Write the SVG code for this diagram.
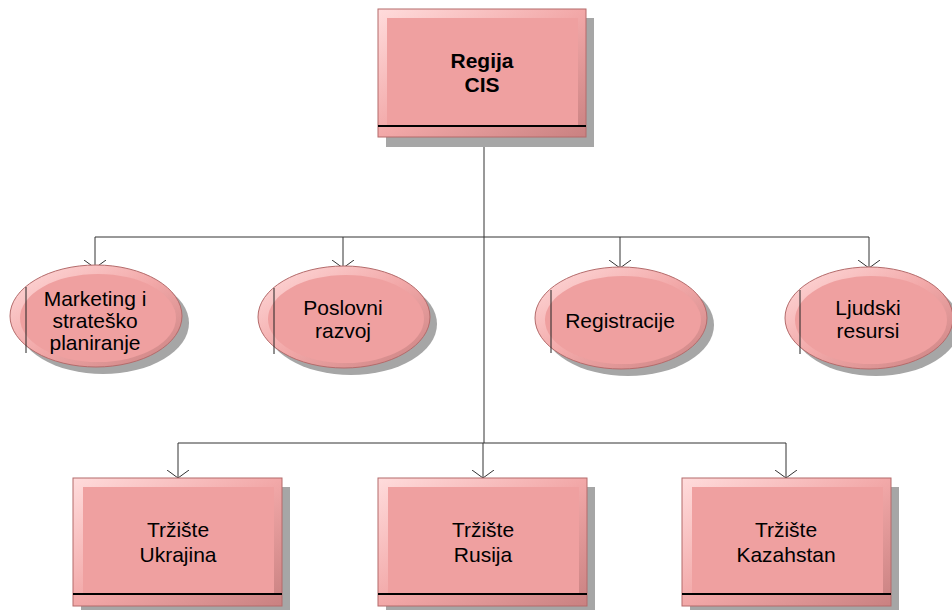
<svg xmlns="http://www.w3.org/2000/svg" width="952" height="610" viewBox="0 0 952 610">
<defs>
<linearGradient id="bev" x1="0" y1="0" x2="1" y2="1">
<stop offset="0" stop-color="#ffdcdc"/>
<stop offset="0.5" stop-color="#f2a8a8"/>
<stop offset="1" stop-color="#c98181"/>
</linearGradient>
<marker id="arr" markerWidth="9" markerHeight="24" refX="8" refY="12" orient="auto" markerUnits="userSpaceOnUse" viewBox="0 0 9 24">
<path d="M0,1 L8,12 L0,23" fill="none" stroke="#333" stroke-width="1"/>
</marker>
<style>
.sh{fill:#a6a6a6}
.outer{fill:url(#bev);stroke:#b46b6b;stroke-width:1}
.inner{fill:#efa0a0}
.bar{stroke:#000;stroke-width:2}
.vbar{stroke:#222;stroke-width:1}
.conn{fill:none;stroke:#333;stroke-width:1}
text{font-family:"Liberation Sans",Arial,sans-serif;font-size:21px;fill:#000;text-anchor:middle}
.b{font-weight:bold;font-size:21px}
</style>
</defs>
<rect width="952" height="610" fill="#fff"/>
<g id="connectors">
<path class="conn" d="M484,137 V443"/>
<path class="conn" d="M95,237 H869"/>
<path class="conn" d="M95,237 V268" marker-end="url(#arr)"/>
<path class="conn" d="M343,237 V268" marker-end="url(#arr)"/>
<path class="conn" d="M620,237 V268" marker-end="url(#arr)"/>
<path class="conn" d="M869,237 V268" marker-end="url(#arr)"/>
<path class="conn" d="M178,443 H786"/>
<path class="conn" d="M178,443 V478" marker-end="url(#arr)"/>
<path class="conn" d="M483,443 V478" marker-end="url(#arr)"/>
<path class="conn" d="M786,443 V478" marker-end="url(#arr)"/>
</g>
<g id="regija">
<rect class="sh" x="386" y="18" width="208" height="129"/>
<rect class="outer" x="378" y="9" width="208" height="128"/>
<rect class="inner" x="387" y="18" width="191" height="108"/>
<line class="bar" x1="378" y1="126" x2="586" y2="126"/>
<text class="b" x="482" y="68">Regija</text>
<text class="b" x="482" y="92">CIS</text>
</g>
<g id="marketing">
<ellipse class="sh" cx="103" cy="323" rx="86" ry="51"/>
<ellipse class="outer" cx="96" cy="316" rx="86" ry="51"/>
<ellipse class="inner" cx="98" cy="318" rx="78" ry="44"/>
<line class="vbar" x1="26" y1="287" x2="26" y2="353"/>
<text x="95" y="306">Marketing i</text>
<text x="95" y="328">strateško</text>
<text x="95" y="350">planiranje</text>
</g>
<g id="poslovni">
<ellipse class="sh" cx="351" cy="324" rx="86" ry="51"/>
<ellipse class="outer" cx="344" cy="317" rx="86" ry="51"/>
<ellipse class="inner" cx="346" cy="319" rx="78" ry="44"/>
<line class="vbar" x1="274" y1="288" x2="274" y2="354"/>
<text x="343" y="315">Poslovni</text>
<text x="343" y="338">razvoj</text>
</g>
<g id="registracije">
<ellipse class="sh" cx="628" cy="325" rx="86" ry="51"/>
<ellipse class="outer" cx="621" cy="318" rx="86" ry="51"/>
<ellipse class="inner" cx="623" cy="320" rx="78" ry="44"/>
<line class="vbar" x1="551" y1="290" x2="551" y2="353"/>
<text x="620" y="328">Registracije</text>
</g>
<g id="ljudski">
<ellipse class="sh" cx="876" cy="325" rx="84" ry="51"/>
<ellipse class="outer" cx="869" cy="318" rx="84" ry="51"/>
<ellipse class="inner" cx="871" cy="320" rx="76" ry="44"/>
<line class="vbar" x1="800" y1="290" x2="800" y2="354"/>
<text x="868" y="315">Ljudski</text>
<text x="868" y="338">resursi</text>
</g>
<g id="ukrajina">
<rect class="sh" x="81" y="487" width="209" height="123"/>
<rect class="outer" x="73" y="478" width="209" height="128"/>
<rect class="inner" x="83" y="487" width="191" height="107"/>
<line class="bar" x1="73" y1="594" x2="282" y2="594"/>
<text x="178" y="537">Tržište</text>
<text x="178" y="562">Ukrajina</text>
</g>
<g id="rusija">
<rect class="sh" x="386" y="487" width="209" height="123"/>
<rect class="outer" x="378" y="478" width="209" height="128"/>
<rect class="inner" x="388" y="487" width="191" height="107"/>
<line class="bar" x1="378" y1="594" x2="587" y2="594"/>
<text x="483" y="537">Tržište</text>
<text x="483" y="562">Rusija</text>
</g>
<g id="kazahstan">
<rect class="sh" x="690" y="487" width="209" height="123"/>
<rect class="outer" x="682" y="478" width="209" height="128"/>
<rect class="inner" x="692" y="487" width="191" height="107"/>
<line class="bar" x1="682" y1="594" x2="891" y2="594"/>
<text x="786" y="537">Tržište</text>
<text x="786" y="562">Kazahstan</text>
</g>
</svg>
